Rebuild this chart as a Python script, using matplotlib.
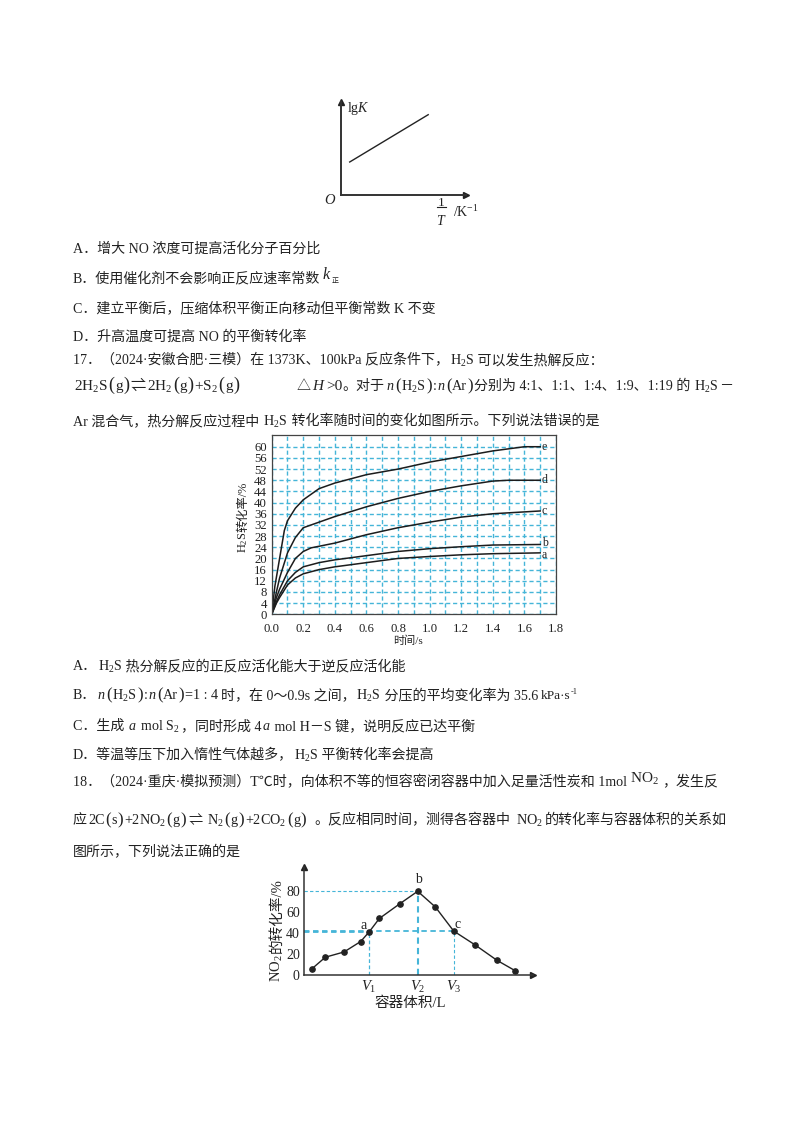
#!/usr/bin/env python3
"""Exam page with three small charts: lgK sketch, H2S conversion, NO2 conversion."""
import matplotlib
matplotlib.use("Agg")
import matplotlib.pyplot as plt

plt.rcParams["font.family"] = ["Liberation Serif", "Noto Sans CJK SC", "DejaVu Sans"]
plt.rcParams["mathtext.fontset"] = "custom"
plt.rcParams["mathtext.rm"] = "Liberation Serif"
plt.rcParams["mathtext.it"] = "Liberation Serif:italic"
plt.rcParams["mathtext.bf"] = "Liberation Serif:bold"

W, H = 800, 1132
INK = "#222222"
CYAN = "#45b5d8"
BODY = 10.1
FORM = 11
SMALL = 10.2
PAREN_L = ("(", 13, 0)
PAREN_R = (")", 13, 0)
PAREN_L2 = ("(", 12, 0)
PAREN_R2 = (")", 12, 0)

# lgK sketch
lgk_x = [0.09, 0.875]
lgk_y = [0.33, 0.803]

# H2S conversion curves
h2s_time = {
    "a": [0, .03, .05, .1, .15, .2, .3, .4, .6, .8, 1.0, 1.2, 1.4, 1.7],
    "b": [0, .03, .05, .1, .15, .2, .3, .4, .6, .8, 1.0, 1.2, 1.4, 1.7],
    "c": [0, .03, .05, .1, .15, .2, .25, .4, .6, .8, 1.0, 1.2, 1.4, 1.7],
    "d": [0, .03, .05, .1, .15, .2, .25, .4, .6, .8, 1.0, 1.2, 1.4, 1.5, 1.7],
    "e": [0, .02, .05, .08, .1, .15, .2, .3, .4, .5, .6, .8, 1.0, 1.2, 1.4, 1.6, 1.7],
}
h2s_conv = {
    "a": [0, 4, 6, 10.5, 13, 14.5, 16, 17, 18.5, 20, 20.7, 21.3, 21.7, 22],
    "b": [0, 4.5, 7, 12, 15, 17, 18.5, 19.5, 21, 22.5, 23.5, 24.2, 24.8, 25],
    "c": [0, 6, 9, 15, 20, 22.5, 23.8, 25.5, 28.5, 31, 33, 34.8, 36, 37],
    "d": [0, 8, 13, 22, 27.5, 31, 32, 35, 38.5, 41.5, 44, 46, 47.7, 48, 48],
    "e": [0, 10, 20, 30, 33.5, 38, 41, 45, 47, 48.5, 50, 52, 54.5, 56.5, 58.5, 60, 60],
}
h2s_xticks = [0.0, 0.2, 0.4, 0.6, 0.8, 1.0, 1.2, 1.4, 1.6, 1.8]
h2s_yticks = list(range(0, 61, 4))

# NO2 conversion vs volume (volume has no scale, arbitrary units)
no2_vol = [.24, .64, 1.2, 1.7, 1.95, 2.26, 2.87, 3.41, 3.94, 4.49, 5.12, 5.79, 6.34]
no2_conv = [6, 17, 22, 32, 41, 54, 68, 80, 65, 42, 29, 14, 4]
no2_yticks = [0, 20, 40, 60, 80]
no2_vticks = [1.95, 3.41, 4.49]
no2_vlabels = ["$V_1$", "$V_2$", "$V_3$"]
no2_marks = [(1.95, 41), (3.41, 80), (4.49, 42)]

# page text: baseline y in pixels, start x, then runs (number = gap in px)
page_lines = [
    (253, 73, ["A．增大 NO 浓度可提高活化分子百分比"]),
    (282, 73, ["B．使用催化剂不会影响正反应速率常数", 1, ("$k$", 11.5, 3), ("正", 5, -1)]),
    (312, 73, ["C．建立平衡后，压缩体积平衡正向移动但平衡常数 K 不变"]),
    (341, 73, ["D．升高温度可提高 NO 的平衡转化率"]),
    (364, 73, ["17．（2024·安徽合肥·三模）在 1373K、100kPa 反应条件下，", "H$_2$S", " 可以发生热解反应："]),
    (390, 74, [("2H$_2$S", FORM, 0), PAREN_L, ("g", FORM, 0), PAREN_R, 1, ("⇌", FORM, 0), 1, ("2H$_2$", FORM, 0),
               PAREN_L, ("g", FORM, 0), PAREN_R, ("+S$_2$", FORM, 0), PAREN_L, ("g", FORM, 0), PAREN_R]),
    (390, 297, ["△", ("$H$", FORM, 0), (">0", FORM, 0), "。对于"]),
    (390, 386, [("$n$", SMALL, 0), PAREN_L2, ("H$_2$S", SMALL, 0), PAREN_R2, (":", SMALL, 0), ("$n$", SMALL, 0),
                PAREN_L2, ("Ar", SMALL, 0), PAREN_R2]),
    (390, 474, ["分别为 4:1、1:1、1:4、1:9、1:19 的 ", "H$_2$S", "－"]),
    (425, 73, ["Ar 混合气，热分解反应过程中 ", "H$_2$S", " 转化率随时间的变化如图所示。下列说法错误的是"]),
    (670, 73, ["A．", "H$_2$S", " 热分解反应的正反应活化能大于逆反应活化能"]),
    (699, 73, ["B．"]),
    (699, 97, [("$n$", SMALL, 0), PAREN_L2, ("H$_2$S", SMALL, 0), PAREN_R2, (":", SMALL, 0), ("$n$", SMALL, 0),
               PAREN_L2, ("Ar", SMALL, 0), PAREN_R2, ("=1 : 4", SMALL, 0)]),
    (699, 221, ["时，在 0～0.9s 之间，", "H$_2$S", " 分压的平均变化率为 35.6", 2, ("kPa·s", 9.6, 0), ("-1", 6, 5)]),
    (730, 73, ["C．生成 ", ("$a$", BODY, 0), " mol S$_2$", "，同时形成 4", ("$a$", BODY, 0), " mol H－S 键，说明反应已达平衡"]),
    (759, 73, ["D．等温等压下加入惰性气体越多，", "H$_2$S", " 平衡转化率会提高"]),
    (786, 73, ["18．（2024·重庆·模拟预测）T℃时，向体积不等的恒容密闭容器中加入足量活性炭和 1mol", 2,
               ("NO$_2$", 11, 4), 3, "，发生反"]),
    (824, 73, ["应"]),
    (824, 88, [("2C", SMALL, 0), PAREN_L2, ("s", SMALL, 0), PAREN_R2, 1, ("+2NO$_2$", SMALL, 0), PAREN_L2,
               ("g", SMALL, 0), PAREN_R2, 2, ("⇌", SMALL, 0), 4, ("N$_2$", SMALL, 0), PAREN_L2, ("g", SMALL, 0),
               PAREN_R2, 1, ("+2CO$_2$", SMALL, 0), PAREN_L2, ("g", SMALL, 0), PAREN_R2]),
    (824, 314, ["。反应相同时间，测得各容器中"]),
    (824, 516, [("NO$_2$", SMALL, 0)]),
    (824, 545, ["的转化率与容器体积的关系如"]),
    (856, 73, ["图所示，下列说法正确的是"]),
]


def axes_px(fig, left, top, right, bottom):
    return fig.add_axes([left / W, 1 - bottom / H, (right - left) / W, (bottom - top) / H])


def draw_line(fig, renderer, y, x, runs):
    for run in runs:
        if isinstance(run, (int, float)):
            x += run
            continue
        s, size, rise = run if isinstance(run, tuple) else (run, BODY, 0)
        # subscripted mathtext comes out a little high next to plain text
        if "$_" in s:
            rise -= 1
        t = fig.text(x / W, 1 - (y - rise) / H, s, fontsize=size, color=INK, va="baseline", ha="left")
        x += t.get_window_extent(renderer).width + 0.5


def arrow_axes(ax, lw=1.4):
    for side in ("top", "right"):
        ax.spines[side].set_visible(False)
    for side in ("left", "bottom"):
        ax.spines[side].set_linewidth(lw)
        ax.spines[side].set_color("#333333")
    ax.plot(1, 0, ">", transform=ax.transAxes, color="#222222", ms=5, clip_on=False)
    ax.plot(0, 1, "^", transform=ax.transAxes, color="#222222", ms=5, clip_on=False)
    ax.patch.set_alpha(0)


def plot_lgk(fig):
    ax = axes_px(fig, 340.7, 101.7, 466, 195)
    ax.set_xlim(0, 1.253)
    ax.set_ylim(0, 0.933)
    ax.plot(lgk_x, lgk_y, color=INK, lw=1)
    arrow_axes(ax)
    ax.set_xticks([])
    ax.set_yticks([])
    fig.text(347 / W, 1 - 112 / H, "lg$K$", fontsize=10, color=INK)
    fig.text(324 / W, 1 - 204 / H, "$O$", fontsize=10.5, color=INK)
    fig.text(441 / W, 1 - 205.5 / H, "1", fontsize=9.5, color=INK, ha="center")
    fig.add_artist(plt.Line2D([437 / W, 446 / W], [1 - 207 / H] * 2, color=INK, lw=0.8))
    fig.text(441 / W, 1 - 225 / H, "$T$", fontsize=10, color=INK, ha="center")
    fig.text(453 / W, 1 - 217 / H, "/K$^{-1}$", fontsize=10, color=INK)


def plot_h2s(fig):
    ax = axes_px(fig, 271.7, 435, 556, 614.3)
    ax.set_xlim(0, 1.8)
    ax.set_ylim(0, 64.2)
    ax.set_xticks([i / 10 for i in range(1, 18)], minor=True)
    ax.set_xticks(h2s_xticks)
    ax.set_yticks(h2s_yticks)
    ax.set_xticklabels([f"{v:.1f}" for v in h2s_xticks], fontsize=9.2, color=INK)
    ax.set_yticklabels([str(v) for v in h2s_yticks], fontsize=9.2, color=INK)
    ax.tick_params(which="both", length=0)
    ax.tick_params(axis="x", pad=6)
    ax.tick_params(axis="y", pad=3.5)
    ax.grid(which="both", color=CYAN, ls=(0, (3, 2)), lw=1)
    ax.set_axisbelow(True)
    # a and b sit close together at the right end, nudge their letters apart
    nudge = {"a": -0.6, "b": 0.6}
    for name, conv in h2s_conv.items():
        ax.plot(h2s_time[name], conv, color="#1c1c1c", lw=1.1)
        ax.text(1.71, conv[-1] + nudge.get(name, 0), name, fontsize=8.6, color=INK, va="center", ha="left")
    for sp in ax.spines.values():
        sp.set_color("#444444")
        sp.set_linewidth(0.9)
    fig.text(243 / W, 1 - 553 / H, "H$_2$S", rotation=90, fontsize=8.8, color=INK, ha="center", va="bottom")
    fig.text(243 / W, 1 - 532.5 / H, "转化率/%", rotation=90, fontsize=8.8, color=INK, ha="center", va="bottom")
    fig.text(408 / W, 1 - 641 / H, "时间/s", fontsize=8, color=INK, ha="center", va="center")


def plot_no2(fig):
    ax = axes_px(fig, 304, 867, 532.7, 975)
    ax.set_xlim(0, 6.86)
    ax.set_ylim(0, 103.2)
    ax.plot(no2_vol, no2_conv, "-o", color=INK, lw=1, ms=3.8)
    # guides are not equally heavy in the source
    h_widths = [1.3, 0.8, 1.3]
    v_widths = [0.9, 1.5, 0.8]
    for (x, y), hw, vw in zip(no2_marks, h_widths, v_widths):
        ax.plot([x, x], [0, y], color=CYAN, ls=(0, (3, 2)), lw=vw, zorder=1)
        ax.plot([0, x], [y, y], color=CYAN, ls=(0, (3, 2)), lw=hw, zorder=1)
    ax.text(1.8, 44, "a", fontsize=10, color=INK, ha="center")
    ax.text(3.43, 88, "b", fontsize=10, color=INK, ha="center")
    ax.text(4.6, 45, "c", fontsize=10, color=INK, ha="center")
    arrow_axes(ax, lw=1.1)
    ax.set_yticks(no2_yticks)
    ax.set_yticklabels([str(v) for v in no2_yticks], fontsize=10, color=INK)
    ax.set_xticks(no2_vticks)
    ax.set_xticklabels(no2_vlabels, fontsize=10.5, color=INK)
    ax.tick_params(length=0, pad=3)
    fig.text(277 / W, 1 - 982 / H, "NO$_2$", rotation=90, fontsize=10.5, color=INK, ha="center", va="bottom")
    fig.text(277 / W, 1 - 953 / H, "的转化率/%", rotation=90, fontsize=10.5, color=INK, ha="center", va="bottom")
    fig.text(410 / W, 1 - 1003 / H, "容器体积/L", fontsize=10.5, color=INK, ha="center", va="center")


def main():
    fig = plt.figure(figsize=(W / 100, H / 100), dpi=100, facecolor="white")
    renderer = fig.canvas.get_renderer()
    plot_lgk(fig)
    plot_h2s(fig)
    plot_no2(fig)
    for y, x, runs in page_lines:
        draw_line(fig, renderer, y, x, runs)
    fig.savefig("out.png", dpi=100)


if __name__ == "__main__":
    main()
